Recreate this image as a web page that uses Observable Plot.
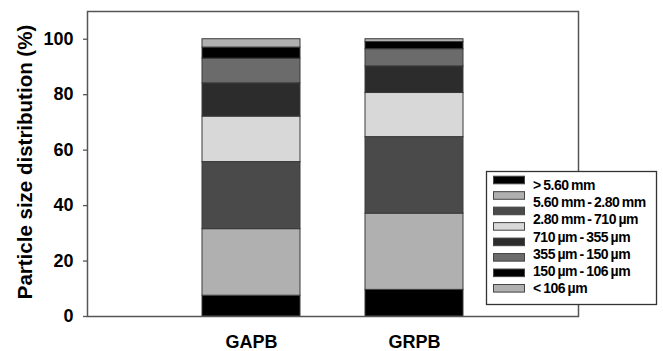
<!DOCTYPE html>
<html>
<head>
<meta charset="utf-8">
<script src="https://cdn.jsdelivr.net/npm/d3@7"></script>
<script src="https://cdn.jsdelivr.net/npm/@observablehq/plot@0.6"></script>
<style>
  html, body { margin: 0; padding: 0; background: #fff; }
  #wrap { position: relative; width: 663px; height: 351px; }
  #legend { position: absolute; left: 0; top: 0; }
</style>
</head>
<body>
<div id="wrap"></div>
<script>
// Samples (x categories)
const samples = ["GAPB", "GRPB"];
// Stack segments, bottom to top
const fractions = ["f1", "f2", "f3", "f4", "f5", "f6", "f7", "f8"];
const fractionColors = ["#000000", "#b0b0b0", "#4a4a4a", "#d8d8d8", "#2c2c2c", "#6b6b6b", "#000000", "#b0b0b0"];
// Percent values per segment (bottom to top)
const gapbValues = [7.5, 24.0, 24.2, 16.4, 12.0, 8.9, 4.0, 3.0];
const grpbValues = [9.6, 27.5, 27.6, 15.9, 9.6, 6.2, 2.6, 1.0];
// Legend labels as printed
const legendLabels = ["> 5.60 mm", "5.60 mm - 2.80 mm", "2.80 mm - 710 µm", "710 µm - 355 µm", "355 µm - 150 µm", "150 µm - 106 µm", "< 106 µm"];
const yTicks = [0, 20, 40, 60, 80, 100];
const yTitle = "Particle size distribution (%)";

const data = [];
fractions.forEach((f, i) => {
  data.push({sample: samples[0], fraction: f, value: gapbValues[i]});
  data.push({sample: samples[1], fraction: f, value: grpbValues[i]});
});

const font = "'Liberation Sans', Arial, sans-serif";

const plot = Plot.plot({
  width: 663,
  height: 351,
  marginLeft: 87,
  marginRight: 85,
  marginTop: 11,
  marginBottom: 35,
  style: {fontFamily: font, fontWeight: "bold", color: "#000", background: "#fff"},
  x: {domain: samples, paddingInner: 0.4, paddingOuter: 0.705, label: null, axis: null},
  y: {domain: [0, 110], label: null, axis: null},
  color: {domain: fractions, range: fractionColors},
  marks: [
    Plot.barY(data, {x: "sample", y: "value", fill: "fraction", stroke: "#3a3a3a", strokeWidth: 1, order: null}),
    Plot.frame({stroke: "#555", strokeWidth: 1.5}),
    Plot.axisY(yTicks, {tickSize: 4, tickPadding: 10, fontSize: 18, fontWeight: "bold", fill: "#000", stroke: "#555", strokeWidth: 1.3, label: null}),
    Plot.axisX(samples, {tickSize: 0, tickPadding: 19, fontSize: 18, fontWeight: "bold", fill: "#000", label: null}),
    Plot.text([yTitle], {frameAnchor: "left", dx: -62, dy: -2, rotate: -90, text: d => d, textAnchor: "middle", fontSize: 20.5, fontWeight: "bold", fill: "#000", lineAnchor: "middle"})
  ]
});

const wrap = document.getElementById("wrap");
wrap.appendChild(plot);

// Legend (box overlapping the frame, as in the reference)
const color = plot.scale("color");
const svg = d3.select(wrap).append("svg")
  .attr("id", "legend")
  .attr("width", 663).attr("height", 351)
  .style("font-family", font)
  .style("pointer-events", "none");

svg.append("rect")
  .attr("x", 486.5).attr("y", 171.5).attr("width", 170).attr("height", 133)
  .attr("fill", "#fff").attr("stroke", "#333").attr("stroke-width", 1.3);

fractions.forEach((f, i) => {
  const cy = 180 + 15.47 * i;
  svg.append("rect")
    .attr("x", 493.5).attr("y", cy - 3.8).attr("width", 31).attr("height", 7.6)
    .attr("fill", color.apply(f)).attr("stroke", "#444").attr("stroke-width", 1);
});

legendLabels.forEach((t, i) => {
  const cy = 185 + 17.2 * i;
  svg.append("text")
    .attr("x", 533).attr("y", cy + 5)
    .attr("font-size", 14).attr("font-weight", "bold")
    .attr("letter-spacing", "-0.45")
    .attr("word-spacing", "-1")
    .attr("fill", "#000")
    .text(t);
});
</script>
</body>
</html>
